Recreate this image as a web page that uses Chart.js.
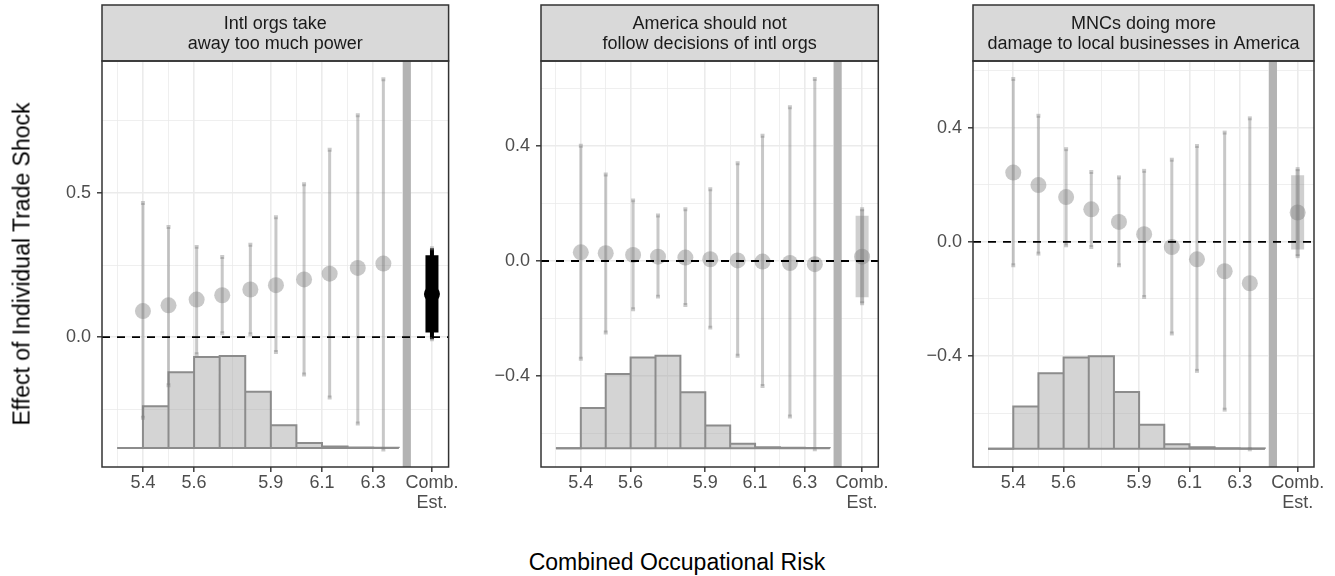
<!DOCTYPE html>
<html>
<head>
<meta charset="utf-8">
<script src="https://cdn.jsdelivr.net/npm/chart.js@4.4.1/dist/chart.umd.min.js"></script>
<style>
  html, body { margin: 0; padding: 0; background: #fff; }
  body { width: 1335px; height: 576px; position: relative; overflow: hidden;
         font-family: 'Liberation Sans', Arial, sans-serif; }
  canvas { position: absolute; top: 0; }
  .ytitle { position: absolute; left: 22px; top: 264px; font-size: 23px; color: #000; white-space: nowrap;
            transform: translate(-50%, -50%) rotate(-90deg); }
  .xtitle { position: absolute; left: 677px; top: 562px; font-size: 23px; color: #000; white-space: nowrap;
            transform: translate(-50%, -50%); }
</style>
</head>
<body>
<canvas id="panel1" width="460" height="530" style="left:0px"></canvas>
<canvas id="panel2" width="430" height="530" style="left:460px"></canvas>
<canvas id="panel3" width="445" height="530" style="left:890px"></canvas>
<div class="ytitle">Effect of Individual Trade Shock</div>
<div class="xtitle">Combined Occupational Risk</div>

<script>
Chart.defaults.font.family = "'Liberation Sans', Arial, sans-serif";
Chart.defaults.animation = false;

// Shared x positions (combined occupational risk)
const riskX = [5.40, 5.50, 5.61, 5.71, 5.82, 5.92, 6.03, 6.13, 6.24, 6.34];
const combX = 6.53;
const dividerX = 6.432;
const binEdges = [5.3, 5.4, 5.5, 5.6, 5.7, 5.8, 5.9, 6.0, 6.1, 6.2, 6.3, 6.4];
const xRange = [5.24, 6.595];
const xMajor = [5.4, 5.6, 5.9, 6.1, 6.3];
const xMinor = [5.3, 5.5, 5.75, 6.0, 6.2, 6.415];
const combLabel = ['Comb.', 'Est.'];

// Panel 1: Intl orgs take away too much power
const title1 = ['Intl orgs take', 'away too much power'];
const est1 = [0.09, 0.11, 0.13, 0.145, 0.165, 0.18, 0.20, 0.22, 0.24, 0.255];
const lo1 = [-0.28, -0.167, -0.06, 0.013, 0.01, -0.052, -0.13, -0.21, -0.30, -0.39];
const hi1 = [0.465, 0.382, 0.313, 0.278, 0.32, 0.416, 0.53, 0.65, 0.77, 0.895];
const comb1 = [-0.008, 0.016, 0.149, 0.284, 0.308]; // lo95, lo90, est, hi90, hi95
const histBase1 = -0.385;
const hist1 = [-0.385, -0.24, -0.122, -0.069, -0.066, -0.19, -0.306, -0.368, -0.38, -0.383, -0.384];
const yRange1 = [-0.451, 0.958];
const yMajor1 = [0, 0.5];
const yMinor1 = [-0.25, 0.25, 0.75];

// Panel 2: America should not follow decisions of intl orgs
const title2 = ['America should not', 'follow decisions of intl orgs'];
const est2 = [0.030, 0.027, 0.021, 0.015, 0.012, 0.006, 0.002, -0.002, -0.007, -0.011];
const lo2 = [-0.340, -0.249, -0.168, -0.124, -0.153, -0.232, -0.330, -0.435, -0.541, -0.655];
const hi2 = [0.401, 0.301, 0.211, 0.158, 0.180, 0.250, 0.340, 0.436, 0.535, 0.633];
const comb2 = [-0.147, -0.126, 0.015, 0.157, 0.180];
const histBase2 = -0.652;
const hist2 = [-0.652, -0.512, -0.393, -0.336, -0.330, -0.457, -0.573, -0.636, -0.648, -0.650, -0.651];
const yRange2 = [-0.717, 0.696];
const yMajor2 = [-0.4, 0, 0.4];
const yMinor2 = [-0.6, -0.2, 0.2, 0.6];

// Panel 3: MNCs doing more damage to local businesses in America
const title3 = ['MNCs doing more', 'damage to local businesses in America'];
const est3 = [0.243, 0.199, 0.157, 0.114, 0.070, 0.027, -0.018, -0.061, -0.103, -0.145];
const lo3 = [-0.082, -0.041, -0.012, -0.018, -0.082, -0.193, -0.321, -0.452, -0.588, -0.727];
const hi3 = [0.571, 0.442, 0.325, 0.245, 0.226, 0.249, 0.288, 0.336, 0.383, 0.433];
const comb3 = [-0.050, -0.027, 0.103, 0.234, 0.255];
const histBase3 = -0.725;
const hist3 = [-0.725, -0.577, -0.460, -0.405, -0.401, -0.526, -0.641, -0.709, -0.720, -0.723, -0.724];
const yRange3 = [-0.789, 0.634];
const yMajor3 = [-0.4, 0, 0.4];
const yMinor3 = [-0.6, -0.2, 0.2, 0.6];

const GREY = 'rgba(128,128,128,0.43)';
const CAP = 'rgba(128,128,128,0.42)';
const HIST_FILL = 'rgba(160,160,160,0.45)';
const HIST_EDGE = '#8c8c8c';
const GRID = '#ebebeb';

function fmtY(v) {
    return v.toFixed(1).replace('-', '\u2212');
}

// strip header + panel border, drawn on top
function framePlugin(lines) {
    return {
        id: 'frame',
        afterDraw(chart) {
            const { ctx, chartArea: a } = chart;
            ctx.save();
            ctx.fillStyle = '#d9d9d9';
            ctx.fillRect(a.left, 5, a.right - a.left, a.top - 5);
            ctx.strokeStyle = '#333333';
            ctx.lineWidth = 1.5;
            ctx.strokeRect(a.left, 5, a.right - a.left, a.top - 5);
            ctx.strokeRect(a.left, a.top, a.right - a.left, a.bottom - a.top);
            ctx.fillStyle = '#1a1a1a';
            ctx.font = "18px 'Liberation Sans', Arial, sans-serif";
            ctx.textAlign = 'center';
            ctx.textBaseline = 'middle';
            lines.forEach((t, i) => ctx.fillText(t, (a.left + a.right) / 2, 24.5 + i * 20));
            ctx.restore();
        }
    };
}

// outline of the histogram: up, across, down for every bin
function histOutline(base, tops) {
    const pts = [];
    tops.forEach((top, i) => {
        pts.push({ x: binEdges[i], y: base }, { x: binEdges[i], y: top },
                 { x: binEdges[i + 1], y: top }, { x: binEdges[i + 1], y: base });
    });
    return pts;
}

function makePanel(p) {
    const dark = p.combDark;
    const combThin = dark ? '#000' : 'rgba(128,128,128,0.55)';
    const combThick = dark ? '#000' : 'rgba(128,128,128,0.38)';
    const combPoint = dark ? '#000' : 'rgba(128,128,128,0.45)';

    const caps = [];
    riskX.forEach((x, i) => {
        caps.push({ x: x, y: p.lo[i] }, { x: x, y: p.hi[i] });
    });
    caps.push({ x: combX, y: p.comb[0] }, { x: combX, y: p.comb[4] });

    const xTicks = xMajor.concat(xMinor, [combX]).sort((a, b) => a - b);
    const yTicks = p.yMajor.concat(p.yMinor).sort((a, b) => a - b);
    const isMajorX = v => xMajor.includes(v) || v === combX;
    const isMajorY = v => p.yMajor.includes(v);

    new Chart(document.getElementById(p.id), {
        type: 'scatter',
        data: {
            datasets: [
                {   // zero reference line
                    type: 'line',
                    data: [{ x: xRange[0], y: 0 }, { x: xRange[1], y: 0 }],
                    borderColor: '#000', borderWidth: 1.8, borderDash: [8, 7],
                    pointRadius: 0, order: 0
                },
                {   // point estimates
                    data: p.est.map((y, i) => ({ x: riskX[i], y: y })),
                    pointRadius: 8, backgroundColor: GREY, borderWidth: 0, order: 1
                },
                {   // combined estimate point
                    data: [{ x: combX, y: p.comb[2] }],
                    pointRadius: 8, backgroundColor: combPoint, borderWidth: 0, order: 1
                },
                {   // errorbar end marks
                    data: caps,
                    pointStyle: 'rect', pointRadius: 2.8, backgroundColor: CAP,
                    borderWidth: 0, order: 2
                },
                {   // 95% intervals
                    type: 'bar',
                    data: p.lo.map((lo, i) => ({ x: riskX[i], y: [lo, p.hi[i]] })),
                    grouped: false, maxBarThickness: 3, backgroundColor: GREY, order: 3
                },
                {   // combined 95%
                    type: 'bar',
                    data: [{ x: combX, y: [p.comb[0], p.comb[4]] }],
                    grouped: false, maxBarThickness: 4, backgroundColor: combThin, order: 3
                },
                {   // combined 90%
                    type: 'bar',
                    data: [{ x: combX, y: [p.comb[1], p.comb[3]] }],
                    grouped: false, maxBarThickness: 13, backgroundColor: combThick, order: 4
                },
                {   // divider before the combined estimate
                    type: 'line',
                    data: [{ x: dividerX, y: p.yRange[0] }, { x: dividerX, y: p.yRange[1] }],
                    borderColor: '#b3b3b3', borderWidth: 8, pointRadius: 0, order: 5
                },
                {   // histogram baseline
                    type: 'line',
                    data: [{ x: binEdges[0], y: p.histBase }, { x: binEdges[binEdges.length - 1], y: p.histBase }],
                    borderColor: HIST_EDGE, borderWidth: 2, pointRadius: 0, order: 6
                },
                {   // histogram of risk
                    type: 'line',
                    data: histOutline(p.histBase, p.hist),
                    fill: { value: p.histBase },
                    backgroundColor: HIST_FILL, borderColor: HIST_EDGE, borderWidth: 2,
                    borderJoinStyle: 'miter', pointRadius: 0, order: 7
                }
            ]
        },
        options: {
            responsive: false,
            events: [],
            layout: { padding: { top: 61, right: p.padRight, left: 0, bottom: 0 } },
            plugins: { legend: { display: false }, tooltip: { enabled: false } },
            scales: {
                x: {
                    type: 'linear', min: xRange[0], max: xRange[1], offset: false,
                    afterBuildTicks: s => { s.ticks = xTicks.map(v => ({ value: v })); },
                    afterFit: s => { s.height = 63; },
                    ticks: {
                        autoSkip: false, maxRotation: 0, padding: 1, color: '#4d4d4d',
                        font: { size: 18, lineHeight: 1.1 },
                        callback: v => v === combX ? combLabel : (xMajor.includes(v) ? v.toFixed(1) : '')
                    },
                    grid: {
                        offset: false,
                        color: GRID,
                        lineWidth: c => (c.tick && isMajorX(c.tick.value)) ? 1.6 : 0.8,
                        tickColor: c => (c.tick && isMajorX(c.tick.value)) ? '#333333' : 'rgba(0,0,0,0)',
                        tickLength: 5, tickWidth: 1.4
                    },
                    border: { display: false }
                },
                y: {
                    min: p.yRange[0], max: p.yRange[1],
                    afterBuildTicks: s => { s.ticks = yTicks.map(v => ({ value: v })); },
                    afterFit: s => { s.width = p.yWidth; },
                    ticks: {
                        padding: 6, color: '#4d4d4d', font: { size: 18 },
                        callback: v => isMajorY(v) ? fmtY(v) : ''
                    },
                    grid: {
                        color: GRID,
                        lineWidth: c => (c.tick && isMajorY(c.tick.value)) ? 1.6 : 0.8,
                        tickColor: c => (c.tick && isMajorY(c.tick.value)) ? '#333333' : 'rgba(0,0,0,0)',
                        tickLength: 5, tickWidth: 1.4
                    },
                    border: { display: false }
                }
            }
        },
        plugins: [framePlugin(p.title)]
    });
}

makePanel({ id: 'panel1', title: title1, est: est1, lo: lo1, hi: hi1, comb: comb1, combDark: true,
            histBase: histBase1, hist: hist1, yRange: yRange1, yMajor: yMajor1, yMinor: yMinor1,
            yWidth: 102, padRight: 11 });
makePanel({ id: 'panel2', title: title2, est: est2, lo: lo2, hi: hi2, comb: comb2, combDark: false,
            histBase: histBase2, hist: hist2, yRange: yRange2, yMajor: yMajor2, yMinor: yMinor2,
            yWidth: 81, padRight: 8 });
makePanel({ id: 'panel3', title: title3, est: est3, lo: lo3, hi: hi3, comb: comb3, combDark: false,
            histBase: histBase3, hist: hist3, yRange: yRange3, yMajor: yMajor3, yMinor: yMinor3,
            yWidth: 83, padRight: 21 });
</script>
</body>
</html>
